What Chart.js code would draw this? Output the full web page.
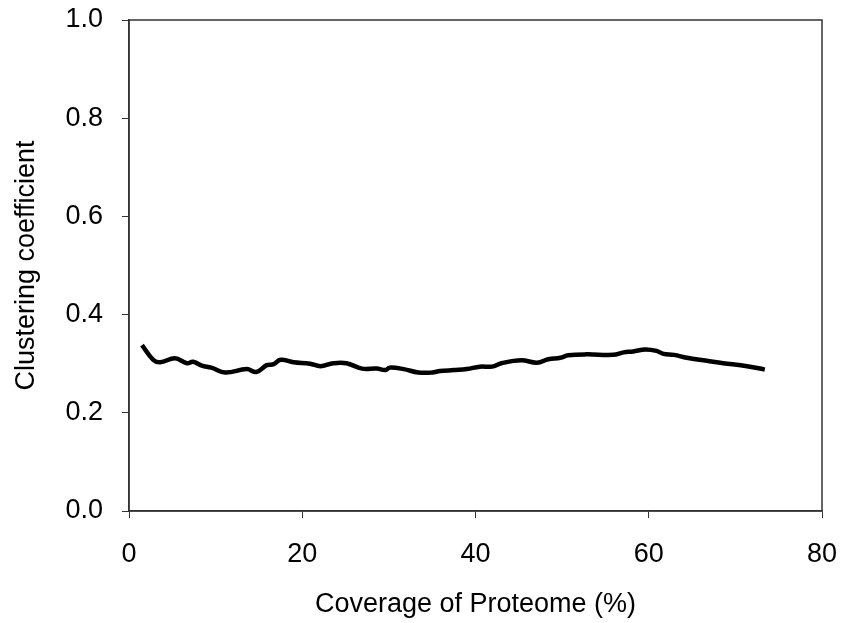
<!DOCTYPE html>
<html>
<head>
<meta charset="utf-8">
<script src="https://cdn.jsdelivr.net/npm/chart.js@4/dist/chart.umd.min.js"></script>
<style>
  body { margin: 0; background: #fff; }
  #wrap { width: 852px; height: 623px; }
</style>
</head>
<body>
<div id="wrap"><canvas id="chart" width="852" height="623"></canvas></div>
<script>
// coverage of proteome (%) and clustering coefficient
const coverage = [1.5, 2.8, 3.6, 5.3, 6.7, 7.4, 8.4, 9.5, 11.1, 13.6, 14.7, 15.9, 16.7, 17.5, 19.0,
  20.9, 22.1, 23.6, 25.1, 26.9, 28.6, 29.6, 30.1, 31.7, 33.4, 35.0, 35.9, 37.5, 39.0, 40.5,
  41.9, 43.0, 45.3, 47.1, 48.4, 49.8, 50.7, 52.8, 55.9, 57.1, 58.2, 59.6, 60.9, 61.7, 62.9,
  64.4, 66.7, 68.6, 71.0, 73.4];
const clustering = [0.338, 0.308, 0.303, 0.311, 0.301, 0.304, 0.296, 0.292, 0.282, 0.289, 0.283, 0.297, 0.299, 0.308, 0.303,
  0.300, 0.295, 0.301, 0.301, 0.290, 0.290, 0.287, 0.292, 0.289, 0.282, 0.282, 0.285, 0.287, 0.289, 0.294,
  0.294, 0.301, 0.307, 0.302, 0.309, 0.312, 0.317, 0.319, 0.318, 0.323, 0.325, 0.329, 0.326, 0.320, 0.318,
  0.312, 0.306, 0.301, 0.296, 0.288];
const xTicks = [0, 20, 40, 60, 80];
const yTicks = [0, 0.2, 0.4, 0.6, 0.8, 1.0];

const points = coverage.map(function(x, i) { return { x: x, y: clustering[i] }; });

// box round the plot area
const frame = {
  id: 'frame',
  afterDraw: function(chart) {
    const a = chart.chartArea;
    const ctx = chart.ctx;
    ctx.save();
    ctx.strokeStyle = '#333';
    ctx.lineWidth = 1.5;
    ctx.strokeRect(a.left, a.top, a.right - a.left, a.bottom - a.top);
    ctx.restore();
  }
};

// stop tick labels from pushing the plot area in
function noMargins(axis) {
  axis.paddingTop = 0;
  axis.paddingBottom = 0;
  axis.paddingLeft = 0;
  axis.paddingRight = 0;
}

const font = { family: 'Liberation Sans, Arial, sans-serif', size: 27 };

new Chart(document.getElementById('chart').getContext('2d'), {
  type: 'line',
  data: {
    datasets: [{
      data: points,
      borderColor: '#000',
      borderWidth: 4.5,
      pointRadius: 0,
      tension: 0.4,
      fill: false
    }]
  },
  options: {
    responsive: false,
    animation: false,
    layout: { padding: { left: 0, right: 30, top: 20, bottom: 0 } },
    plugins: { legend: { display: false }, tooltip: { enabled: false } },
    scales: {
      x: {
        type: 'linear',
        min: 0,
        max: 80,
        afterBuildTicks: function(axis) { axis.ticks = xTicks.map(function(v) { return { value: v }; }); },
        grid: { drawOnChartArea: false, drawTicks: true, tickLength: 7, color: '#333' },
        border: { color: '#333', width: 1.5 },
        ticks: { color: '#000', font: font, padding: 20, maxRotation: 0 },
        title: { display: true, text: 'Coverage of Proteome (%)', color: '#000', font: font, padding: { top: 0, bottom: 2 } },
        afterFit: function(axis) { axis.height = 112; noMargins(axis); }
      },
      y: {
        min: 0,
        max: 1,
        afterBuildTicks: function(axis) { axis.ticks = yTicks.map(function(v) { return { value: v }; }); },
        grid: { drawOnChartArea: false, drawTicks: true, tickLength: 7, color: '#333' },
        border: { color: '#333', width: 1.5 },
        ticks: { color: '#000', font: font, padding: 19, callback: function(v) { return v.toFixed(1); } },
        title: { display: true, text: 'Clustering coefficient', color: '#000', font: font, padding: { top: 10, bottom: 0 } },
        afterFit: function(axis) { axis.width = 129; noMargins(axis); }
      }
    }
  },
  plugins: [frame]
});
</script>
</body>
</html>
